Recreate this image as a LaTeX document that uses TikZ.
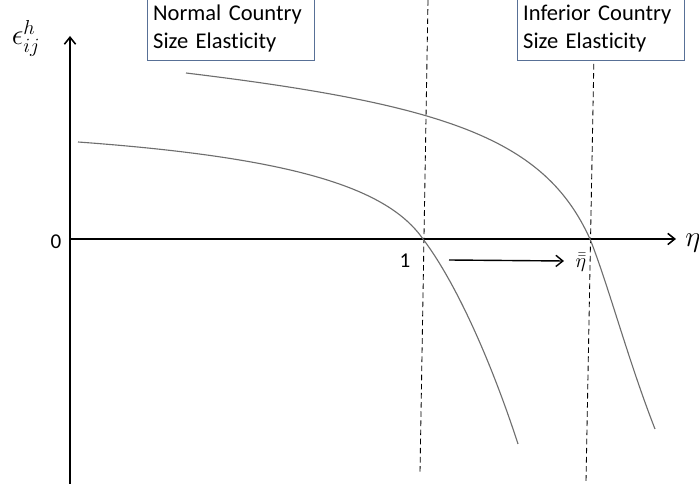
\documentclass[tikz,border=0pt]{standalone}
\usepackage{amsmath}
\usepackage{fontspec}
\setmainfont{Carlito}[Ligatures=NoCommon]
\usetikzlibrary{arrows, arrows.meta}
\usetikzlibrary{calc}
\definecolor{boxline}{RGB}{88,112,150}
\definecolor{curvegray}{RGB}{110,110,110}

\begin{document}
\begin{tikzpicture}[x=0.025cm, y=-0.025cm,
    axis/.style={line width=1.1pt, -{Straight Barb[length=5pt, width=8pt]}},
    guide/.style={line width=0.6pt, dash pattern=on 4pt off 2.5pt},
    demand/.style={line width=0.8pt, curvegray},
    labelbox/.style={draw=boxline, fill=white, line width=0.8pt, anchor=south west, align=left,
      minimum width=4.15cm, minimum height=1.6cm, text width=3.9cm, inner xsep=4pt,
      font=\fontsize{16}{19.5}\selectfont}]
    \useasboundingbox (0,0) rectangle (699,484);

    % axes
    \coordinate (o) at (70,239);
    \coordinate (ytop) at (70,36);
    \coordinate (ybot) at (70,484);
    \coordinate (xend) at (676,239);
    \draw[line width=1.1pt] (o) -- (ybot);
    \draw[axis] (o) -- (ytop);
    \draw[axis] (o) -- (xend);

    \node (eps) at (26,38) {\fontsize{20}{20}\selectfont$\epsilon_{ij}^{h}$};
    \node (eta) at (693,243) {\fontsize{22}{22}\selectfont$\eta$};
    \node (zero) at (56,242) {\fontsize{15}{15}\selectfont 0};
    \node (one) at (405,261) {\fontsize{15}{15}\selectfont 1};
    \node (etabar) at (581,262) {\fontsize{15}{15}\selectfont$\bar{\bar{\eta}}$};

    % dashed guides
    \coordinate (g1t) at (428,0);
    \coordinate (g1b) at (420,473);
    \coordinate (g2t) at (595,0);
    \coordinate (g2b) at (586,482);
    \draw[guide] (g1t) -- (g1b);
    \draw[guide] (g2t) -- (g2b);

    % elasticity curves
    \coordinate (n0) at (78,142);
    \coordinate (n1) at (423,239);
    \coordinate (n2) at (518,444);
    \coordinate (i0) at (186,73);
    \coordinate (i1) at (590,239);
    \coordinate (i2) at (655,429);
    \draw[demand] (n0) .. controls (298,158) and (388,189) .. (n1)
      .. controls (457,284) and (492,364) .. (n2);
    \draw[demand] (i0) .. controls (450,105) and (545,140) .. (i1)
      .. controls (608,284) and (628,360) .. (i2);

    % shift arrow
    \coordinate (s0) at (449,260);
    \coordinate (s1) at (564,261);
    \draw[line width=1pt, -{Straight Barb[length=5pt, width=8pt]}] (s0) -- (s1);

    \node[labelbox] (normal) at (147,61) {Normal Country\\Size Elasticity};
    \node[labelbox] (inferior) at (517,61) {Inferior Country\\Size Elasticity};
  \end{tikzpicture}
\end{document}
